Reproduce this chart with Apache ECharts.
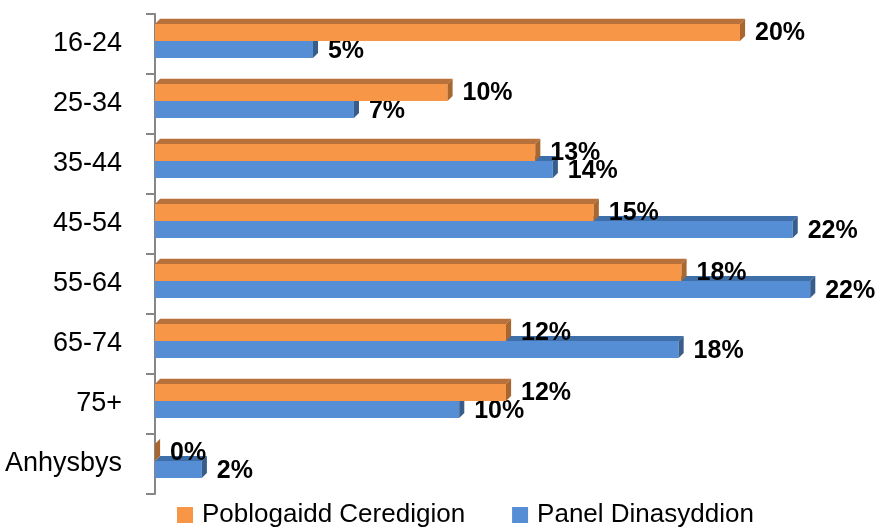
<!DOCTYPE html>
<html>
<head>
<meta charset="utf-8">
<script src="https://cdn.jsdelivr.net/npm/echarts@6/dist/echarts.min.js"></script>
<style>
html,body{margin:0;padding:0;background:#fff;}
#chart{width:879px;height:527px;}
</style>
</head>
<body>
<div id="chart"></div>
<script>
const categories = ['16-24','25-34','35-44','45-54','55-64','65-74','75+','Anhysbys'];
const seriesNames = ['Poblogaidd Ceredigion','Panel Dinasyddion'];
const poblogaidd = [20.0, 10.0, 13.0, 15.0, 18.0, 12.0, 12.0, 0.0];
const panel = [5.4, 6.8, 13.6, 21.8, 22.4, 17.9, 10.4, 1.6];

const styles = [
  {front:'#F79646', top:'#B8713A', side:'#A8672F'},
  {front:'#558ED5', top:'#3F6FA8', side:'#385D8A'}
];

function render3D(which){
  return function(params, api){
    const cat = api.value(1);
    const val = api.value(0);
    const p0 = api.coord([0, cat]);
    const p1 = api.coord([val, cat]);
    const band = api.size([0, 1])[1];
    const cy = p0[1];
    const t = band * 0.285;
    const d = band * 0.085;
    const mid = cy - band * 0.05;
    let y1, y2;
    if (which === 0) { y1 = mid - t; y2 = mid; } else { y1 = mid; y2 = mid + t; }
    const x0 = p0[0], x1 = p1[0];
    const s = styles[which];
    const children = [
      {type:'polygon', shape:{points:[[x0,y1],[x1,y1],[x1+d,y1-d],[x0+d,y1-d]]}, style:{fill:s.top}},
      {type:'rect', shape:{x:x0, y:y1, width:Math.max(0,x1-x0), height:y2-y1}, style:{fill:s.front}},
      {type:'polygon', shape:{points:[[x1,y1],[x1+d,y1-d],[x1+d,y2-d],[x1,y2]]}, style:{fill:s.side}},
      {type:'text', z2:100, style:{
        text: Math.round(val) + '%',
        x: x1 + 15, y: (y1+y2)/2 + 1 + which,
        textVerticalAlign:'middle', textAlign:'left',
        fill:'#000', font:'bold 25px "Liberation Sans", Arial, sans-serif'
      }}
    ];
    return {type:'group', children: children};
  };
}

const chart = echarts.init(document.getElementById('chart'), null, {renderer:'canvas'});
chart.setOption({
  animation:false,
  backgroundColor:'#fff',
  grid:{left:155, right:22, top:14, bottom:33},
  xAxis:{type:'value', min:0, max:24, show:false},
  yAxis:{
    type:'category', data:categories, inverse:true, offset:5,
    axisLine:{show:true, lineStyle:{color:'#868686', width:2}},
    axisTick:{show:true, length:9, lineStyle:{color:'#868686', width:2}},
    axisLabel:{margin:28, color:'#000', fontSize:27, fontFamily:'"Liberation Sans", Arial, sans-serif'},
    splitLine:{show:false}
  },
  legend:{
    data:seriesNames, left:172, top:497, itemWidth:16, itemHeight:16, itemGap:47,
    icon:'rect',
    textStyle:{fontSize:26, color:'#000', fontFamily:'"Liberation Sans", Arial, sans-serif', padding:[0,0,0,4]}
  },
  series:[
    {name:seriesNames[1], type:'custom', z:2, itemStyle:{color:styles[1].front},
     renderItem:render3D(1), encode:{x:0, y:1},
     data: panel.map((v,i)=>[v,i])},
    {name:seriesNames[0], type:'custom', z:3, itemStyle:{color:styles[0].front},
     renderItem:render3D(0), encode:{x:0, y:1},
     data: poblogaidd.map((v,i)=>[v,i])}
  ]
});
</script>
</body>
</html>
